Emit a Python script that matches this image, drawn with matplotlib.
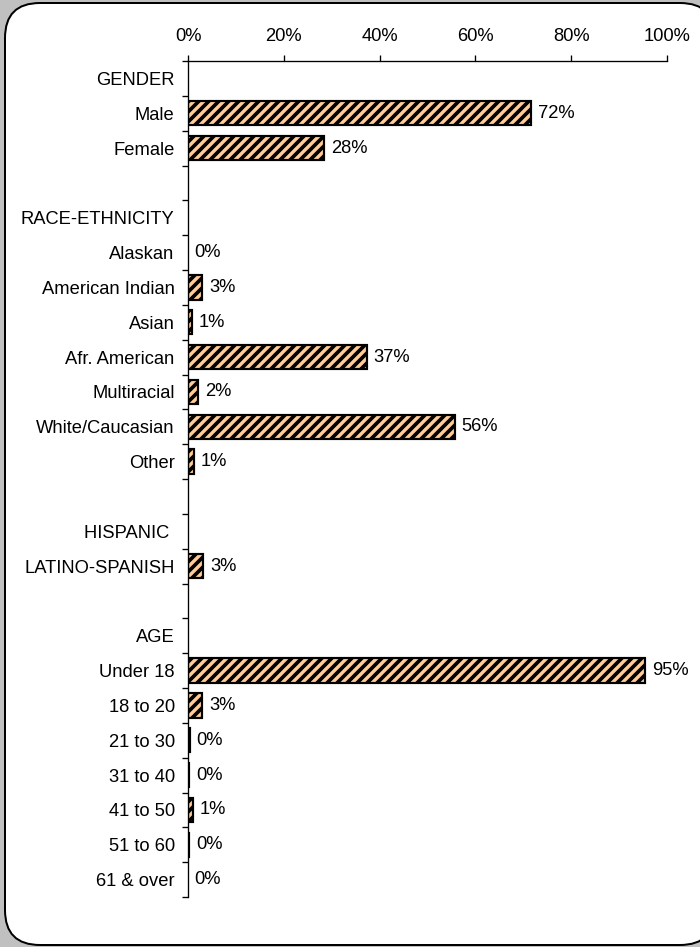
import numpy as np
import matplotlib
matplotlib.use("Agg")
import matplotlib.pyplot as plt
from matplotlib.patches import FancyBboxPatch

labels = ["GENDER", "Male", "Female", "", "RACE-ETHNICITY", "Alaskan",
          "American Indian", "Asian", "Afr. American", "Multiracial",
          "White/Caucasian", "Other", "", "HISPANIC ", "LATINO-SPANISH", "",
          "AGE", "Under 18", "18 to 20", "21 to 30", "31 to 40", "41 to 50",
          "51 to 60", "61 & over"]
values = [np.nan, 71.6, 28.4, np.nan, np.nan, 0.0, 3.0, 0.9, 37.4, 2.1,
          55.7, 1.3, np.nan, np.nan, 3.2, np.nan, np.nan, 95.4, 3.0, 0.4,
          0.3, 1.0, 0.3, 0.0]
xticks = [0, 20, 40, 60, 80, 100]

DPI = 120
W, H = 700, 947
FS = 11
plt.rcParams['font.family'] = ['Liberation Sans', 'DejaVu Sans']
plt.rcParams['hatch.linewidth'] = 2.2
plt.rcParams['hatch.color'] = '#383838'

fig = plt.figure(figsize=(W / DPI, H / DPI), dpi=DPI, facecolor='#c0c0c0')

# rounded white panel
panel = FancyBboxPatch((5 / W, 2 / H), (715 - 5) / W, (944 - 2) / H,
                       boxstyle="round,pad=0,rounding_size=0.05",
                       transform=fig.transFigure, facecolor='white',
                       edgecolor='black', linewidth=1.2, mutation_aspect=W / H,
                       zorder=-10)
fig.patches.append(panel)

ax = fig.add_axes([188 / W, 1 - 897 / H, (667 - 188) / W, (897 - 61) / H])
ax.set_facecolor('none')
ax.set_zorder(5)

n = len(labels)
y = np.arange(n)
vals = np.array(values, dtype=float)
mask = ~np.isnan(vals) & (vals > 0)
ax.barh(y[mask], vals[mask], height=0.70, color='#ffcc99', edgecolor='black',
        linewidth=1.3, hatch='////', zorder=2)

for yi, v in zip(y, vals):
    if np.isnan(v):
        continue
    ax.annotate(f"{round(v):.0f}%", xy=(v, yi), xytext=(4, 0),
                textcoords='offset points', va='center', ha='left',
                fontsize=FS, color='black')

ax.set_xlim(0, 100)
ax.set_ylim(n - 0.5, -0.5)
ax.xaxis.tick_top()
ax.set_xticks(xticks)
ax.set_xticklabels([f"{t}%" for t in xticks], fontsize=FS)
ax.tick_params(axis='x', direction='out', length=3.5, width=0.8, pad=6,
               colors='black')

ax.set_yticks(y)
ax.set_yticklabels(labels, fontsize=FS)
ax.tick_params(axis='y', which='major', length=0, pad=8)
ax.set_yticks(np.arange(n + 1) - 0.5, minor=True)
ax.tick_params(axis='y', which='minor', direction='out', length=3.5, width=0.8)

for s in ['right', 'bottom']:
    ax.spines[s].set_visible(False)
for s in ['top', 'left']:
    ax.spines[s].set_linewidth(0.8)
    ax.spines[s].set_color('black')

fig.savefig('out.png', dpi=DPI, facecolor=fig.get_facecolor())
